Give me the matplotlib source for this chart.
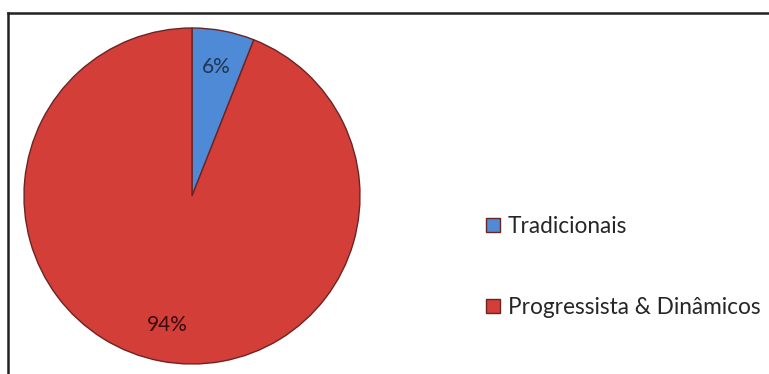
import matplotlib.pyplot as plt
from matplotlib.lines import Line2D

labels = ['Tradicionais', 'Progressista & Dinâmicos']
values = [6, 94]
colors = ['#4f8ad6', '#d43e38']


def main():
    fig = plt.figure(figsize=(7.69, 3.74), dpi=100)
    W, H = 769, 374

    # pie centre ~ (192, 196) px, radius ~168 px
    cx, cy, r = 192, 196, 168
    ax = fig.add_axes([(cx - r) / W, (H - cy - r) / H, 2 * r / W, 2 * r / H])
    wedges, texts, autotexts = ax.pie(
        values, colors=colors, startangle=90, counterclock=False,
        autopct='%1.0f%%', pctdistance=0.78, radius=1,
        wedgeprops=dict(edgecolor='#6b2424', linewidth=1.0),
        textprops=dict(fontsize=15, family='Lato'))
    autotexts[0].set_color('#1f3553')
    autotexts[1].set_color('#3a0c0c')
    ax.set_xlim(-1, 1)
    ax.set_ylim(-1, 1)
    ax.set_aspect('equal')
    ax.axis('off')

    leg = fig.legend(wedges, labels, loc='center left',
                     bbox_to_anchor=(486 / W, (H - 267) / H),
                     frameon=False, borderpad=0, borderaxespad=0,
                     handlelength=0.62, handleheight=0.62,
                     handletextpad=0.35, labelspacing=2.65,
                     prop=dict(family='Lato', size=16.3))
    for t in leg.get_texts():
        t.set_color('#262626')

    # frame lines (top and left)
    fig.add_artist(Line2D([8 / W, 1], [(H - 13) / H] * 2, color='#222222', lw=1.8))
    fig.add_artist(Line2D([8 / W] * 2, [0, (H - 13) / H], color='#222222', lw=1.8))

    fig.savefig('out.png', dpi=100)


if __name__ == '__main__':
    main()
